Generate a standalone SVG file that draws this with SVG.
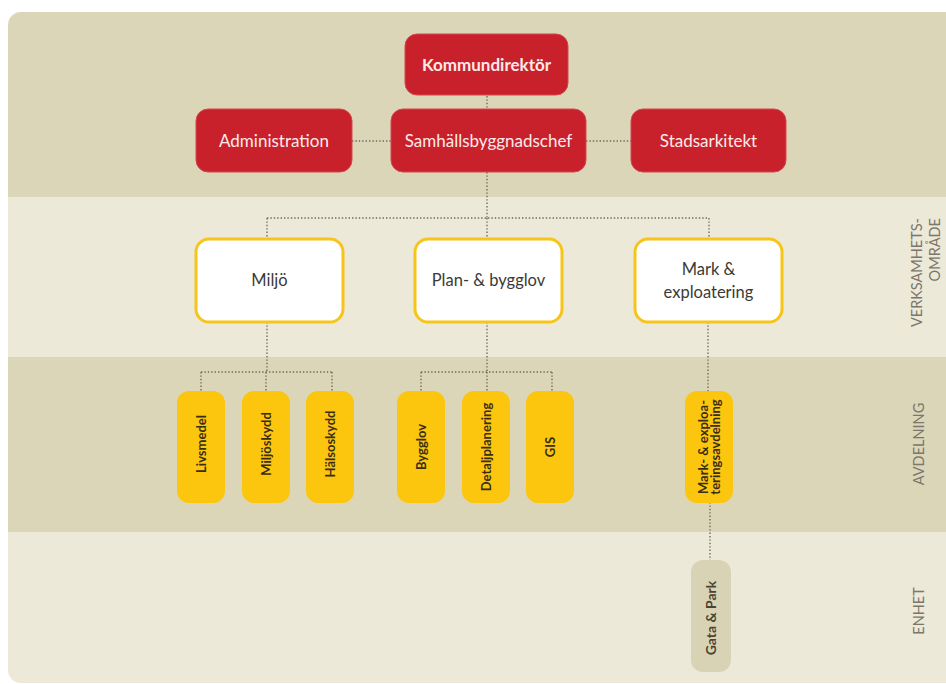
<svg xmlns="http://www.w3.org/2000/svg" width="946" height="684" viewBox="0 0 946 684">
<defs>
<clipPath id="panel"><rect x="8" y="12" width="960" height="671" rx="13"/></clipPath>
</defs>
<style>
.dark{fill:#dcd6b9}
.light{fill:#ede9d8}
.red rect{fill:#c8212c;stroke:#d6464d;stroke-width:1}
.red text{fill:#fbeaea;font-family:Lato,"Noto Sans",sans-serif;font-size:17px;text-anchor:middle}
.area rect{fill:#ffffff;stroke:#f7c41a;stroke-width:3}
.area text{fill:#3b3a36;font-family:Lato,"Noto Sans",sans-serif;font-size:16.5px;text-anchor:middle}
.dept rect{fill:#fdc60e}
.dept text{fill:#3a2e12;font-family:Lato,"Noto Sans",sans-serif;font-size:13px;font-weight:bold;text-anchor:middle}
.unit rect{fill:#d9d3b5}
.unit text{fill:#4a4432;font-family:Lato,"Noto Sans",sans-serif;font-size:14px;font-weight:bold;text-anchor:middle}
.lvl{fill:#7b776b;font-family:Lato,"Noto Sans",sans-serif;font-size:14.5px}
#connectors path{fill:none;stroke:#6e6a5e;stroke-width:1.4;stroke-dasharray:1.4 2}
</style>
<rect x="0" y="0" width="946" height="684" fill="#ffffff"/>
<g clip-path="url(#panel)">
<rect class="dark" x="0" y="0" width="946" height="197"/>
<rect class="light" x="0" y="197" width="946" height="160"/>
<rect class="dark" x="0" y="357" width="946" height="175"/>
<rect class="light" x="0" y="532" width="946" height="152"/>
</g>
<g id="connectors">
<path d="M487 96V109"/>
<path d="M352 141H391"/>
<path d="M586 141H631"/>
<path d="M487 172V218"/>
<path d="M267 218H709"/>
<path d="M267 218V238"/>
<path d="M487 218V238"/>
<path d="M709 218V238"/>
<path d="M267 322V372"/>
<path d="M201 372H332"/>
<path d="M201 372V391"/>
<path d="M266 372V391"/>
<path d="M332 372V391"/>
<path d="M487 322V372"/>
<path d="M421 372H552"/>
<path d="M421 372V391"/>
<path d="M487 372V391"/>
<path d="M552 372V391"/>
<path d="M708 322V391"/>
<path d="M710 502V560"/>
</g>
<g id="kommundirektor" class="red"><rect x="405" y="34" width="163" height="61" rx="12"/><text x="486.5" y="71" font-weight="bold">Kommundirektör</text></g>
<g id="administration" class="red"><rect x="196" y="109" width="156" height="63" rx="12"/><text x="274" y="147">Administration</text></g>
<g id="samhallsbyggnadschef" class="red"><rect x="391" y="109" width="195" height="63" rx="12"/><text x="488.5" y="147">Samhällsbyggnadschef</text></g>
<g id="stadsarkitekt" class="red"><rect x="631" y="109" width="155" height="63" rx="12"/><text x="708.5" y="147">Stadsarkitekt</text></g>
<g id="miljo" class="area"><rect x="196" y="239" width="147" height="83" rx="13"/><text x="269.5" y="286">Miljö</text></g>
<g id="plan-bygglov" class="area"><rect x="415" y="239" width="147" height="83" rx="13"/><text x="488.5" y="286">Plan- &amp; bygglov</text></g>
<g id="mark-exploatering" class="area"><rect x="635" y="239" width="147" height="83" rx="13"/><text x="708.5" y="275">Mark &amp;</text><text x="708.5" y="298">exploatering</text></g>
<g id="livsmedel" class="dept"><rect x="177" y="391" width="48" height="112" rx="12"/><text transform="translate(205.5 444) rotate(-90)">Livsmedel</text></g>
<g id="miljoskydd" class="dept"><rect x="242" y="391" width="48" height="112" rx="12"/><text transform="translate(270.5 444) rotate(-90)">Miljöskydd</text></g>
<g id="halsoskydd" class="dept"><rect x="306" y="391" width="48" height="112" rx="12"/><text transform="translate(334.5 444) rotate(-90)">Hälsoskydd</text></g>
<g id="bygglov" class="dept"><rect x="397" y="391" width="48" height="112" rx="12"/><text transform="translate(425.5 447) rotate(-90)">Bygglov</text></g>
<g id="detaljplanering" class="dept"><rect x="462" y="391" width="48" height="112" rx="12"/><text transform="translate(490.5 447) rotate(-90)">Detaljplanering</text></g>
<g id="gis" class="dept"><rect x="526" y="391" width="48" height="112" rx="12"/><text transform="translate(554.5 447) rotate(-90)">GIS</text></g>
<g id="mark-exploateringsavdelning" class="dept"><rect x="685" y="391" width="48" height="112" rx="12"/><text transform="translate(707.5 447) rotate(-90)" font-size="10.5">Mark- &amp; exploa-</text><text transform="translate(719.5 447) rotate(-90)" font-size="10.5">teringsavdelning</text></g>
<g id="gata-park" class="unit"><rect x="691" y="560" width="40" height="112" rx="12"/><text transform="translate(716 618) rotate(-90)">Gata &amp; Park</text></g>
<g id="levels">
<text class="lvl" text-anchor="end" transform="translate(922 218) rotate(-90)">VERKSAMHETS-</text>
<text class="lvl" text-anchor="end" transform="translate(940 218) rotate(-90)">OMRÅDE</text>
<text class="lvl" text-anchor="middle" transform="translate(924 444) rotate(-90)">AVDELNING</text>
<text class="lvl" text-anchor="middle" transform="translate(924 611) rotate(-90)">ENHET</text>
</g>
</svg>
